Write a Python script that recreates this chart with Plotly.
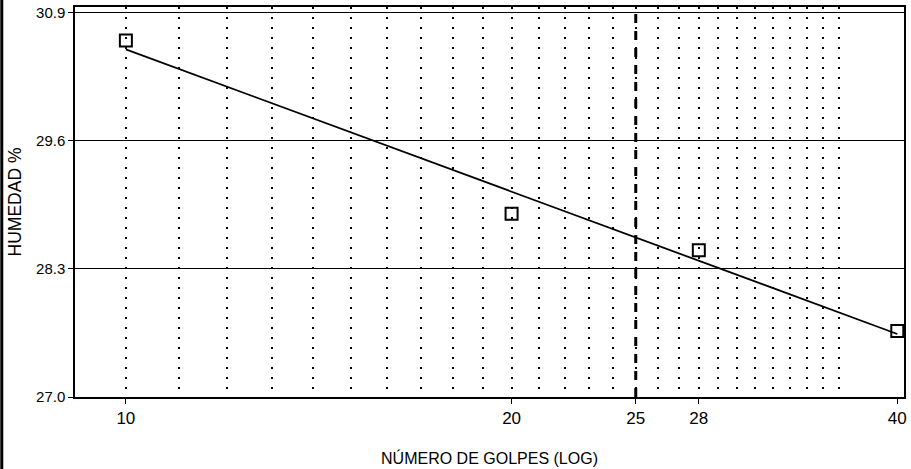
import plotly.graph_objects as go

# ---- data ----
golpes = [10, 20, 28, 40]
humedad = [30.62, 28.86, 28.49, 27.67]

trend_x = [10, 40]
trend_y = [30.53, 27.64]

limite_x = [25, 25]
limite_y = [27.0, 30.96]

x_tick_vals = [10, 20, 25, 28, 40]
x_tick_text = ["10", "20", "25", "28", "40"]
x_minor_vals = list(range(10, 37))

y_tick_vals = [27.0, 28.3, 29.6, 30.9]
y_tick_text = ["27.0", "28.3", "29.6", "30.9"]

FONT = "Liberation Sans, Arial, sans-serif"

fig = go.Figure()

fig.add_trace(go.Scatter(
    x=limite_x, y=limite_y, mode="lines",
    line=dict(color="black", width=3, dash="9px,8px"),
    hoverinfo="skip", showlegend=False))

fig.add_trace(go.Scatter(
    x=trend_x, y=trend_y, mode="lines",
    line=dict(color="black", width=1.8),
    showlegend=False))

fig.add_trace(go.Scatter(
    x=golpes, y=humedad, mode="markers",
    marker=dict(symbol="square-open", size=12, color="black",
                line=dict(color="black", width=2)),
    showlegend=False))

fig.update_layout(
    width=911, height=469,
    margin=dict(l=75, r=4, t=7, b=72),
    paper_bgcolor="white", plot_bgcolor="white",
    font=dict(family=FONT, color="black"),
    showlegend=False,
    xaxis=dict(
        type="log", range=[0.9603, 1.6073],
        tickvals=x_tick_vals, ticktext=x_tick_text,
        tickfont=dict(size=17, family=FONT, color="black"),
        ticks="outside", ticklen=5, tickcolor="black", tickwidth=1,
        showgrid=False, zeroline=False,
        showline=True, linecolor="black", linewidth=1.5, mirror=True,
        minor=dict(tickvals=x_minor_vals, showgrid=True,
                   gridcolor="black", gridwidth=1.5, griddash="2px,8px",
                   ticks=""),
        title=dict(text="NÚMERO DE GOLPES (LOG)",
                   font=dict(size=16, family=FONT, color="black"),
                   standoff=26),
    ),
    yaxis=dict(
        range=[27.0, 30.96],
        tickvals=y_tick_vals, ticktext=y_tick_text,
        tickfont=dict(size=15, family=FONT, color="black"),
        ticks="outside", ticklen=5, tickcolor="black", tickwidth=1,
        showgrid=True, gridcolor="black", gridwidth=1.2,
        zeroline=False,
        showline=True, linecolor="black", linewidth=1.5, mirror=True,
        title=dict(text="HUMEDAD %",
                   font=dict(size=17.5, family=FONT, color="black"),
                   standoff=10),
    ),
    shapes=[dict(type="rect", xref="paper", yref="paper",
                 x0=-75/832, x1=-72/832, y0=-72/390, y1=1 + 7/390,
                 fillcolor="black", line=dict(width=0), layer="above")],
)

fig.write_html("out.html",
               config={"displayModeBar": False},
               post_script="document.body.style.margin='0';document.body.style.padding='0';")
